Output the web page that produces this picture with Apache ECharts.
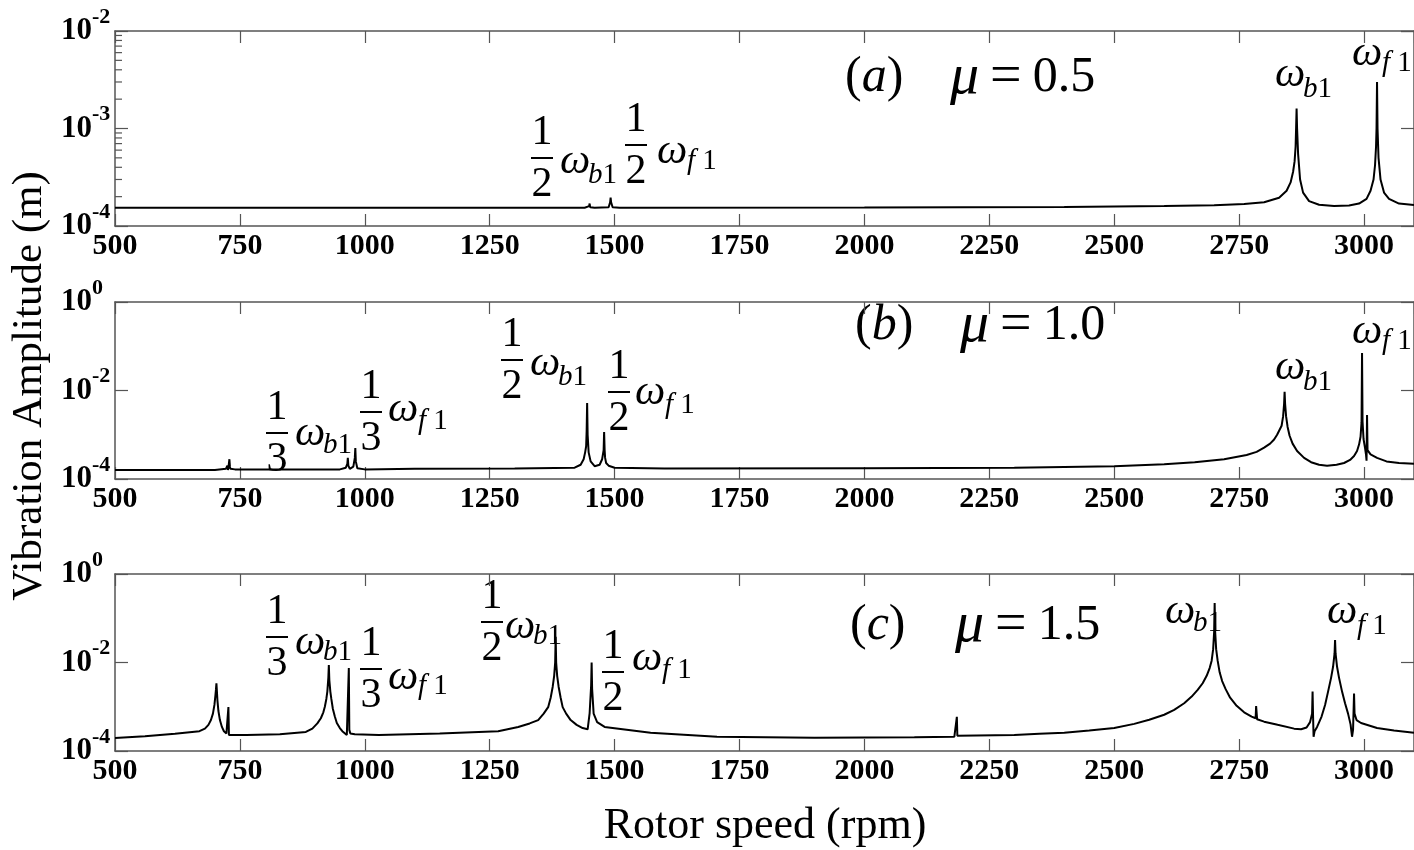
<!DOCTYPE html>
<html>
<head>
<meta charset="utf-8">
<title>Rotor speed response</title>
<script src="https://cdn.jsdelivr.net/npm/echarts@6/dist/echarts.min.js"></script>
<style>
  html, body { margin: 0; padding: 0; background: #fff; }
  #main { width: 1414px; height: 850px; }
</style>
</head>
<body>
<div id="main"></div>
<script>
// ---- data (rpm, amplitude in m) ----
const rpmA = [500, 1000, 1440, 1449, 1450, 1451, 1460, 1488, 1491, 1492, 1493, 1496, 1510, 2000, 2400, 2600, 2700, 2760, 2800, 2830, 2845, 2853, 2858, 2861, 2863, 2864, 2865, 2866, 2868, 2872, 2878, 2890, 2910, 2940, 2970, 2990, 3005, 3013, 3019, 3022, 3024, 3025, 3026, 3027, 3029, 3033, 3040, 3050, 3070, 3100];
const ampA = [1.54e-4, 1.54e-4, 1.54e-4, 1.6e-4, 1.7e-4, 1.56e-4, 1.54e-4, 1.56e-4, 1.75e-4, 1.95e-4, 1.75e-4, 1.56e-4, 1.54e-4, 1.55e-4, 1.57e-4, 1.6e-4, 1.63e-4, 1.68e-4, 1.75e-4, 1.95e-4, 2.3e-4, 2.8e-4, 3.6e-4, 4.6e-4, 6.5e-4, 1.0e-3, 1.6e-3, 1.0e-3, 5.5e-4, 3.0e-4, 2.2e-4, 1.8e-4, 1.65e-4, 1.6e-4, 1.62e-4, 1.7e-4, 1.9e-4, 2.3e-4, 3.0e-4, 4.2e-4, 6.5e-4, 1.0e-3, 3.0e-3, 1.0e-3, 5.0e-4, 3.0e-4, 2.2e-4, 1.9e-4, 1.7e-4, 1.64e-4];

const rpmB = [500, 700, 704, 722, 725, 726, 727, 729, 730, 731, 733, 740, 950, 962, 965, 966, 967, 970, 977, 980, 981, 982, 985, 1000, 1100, 1300, 1420, 1432, 1438, 1441, 1443, 1444, 1445, 1446, 1448, 1452, 1460, 1470, 1475, 1478, 1479, 1480, 1481, 1483, 1488, 1500, 1600, 2000, 2300, 2500, 2600, 2661, 2720, 2765, 2785, 2800, 2812, 2820, 2826, 2831, 2835, 2838, 2840, 2841, 2842, 2844, 2847, 2851, 2857, 2866, 2880, 2894, 2910, 2926, 2945, 2960, 2972, 2980, 2986, 2990, 2993, 2995, 2996, 2997, 2999, 3002, 3004, 3005, 3006, 3007, 3009, 3013, 3026, 3045, 3070, 3100];
const ampB = [1.6e-4, 1.6e-4, 1.65e-4, 1.7e-4, 2.0e-4, 1.6e-4, 1.8e-4, 2.8e-4, 1.9e-4, 1.7e-4, 1.65e-4, 1.65e-4, 1.65e-4, 1.8e-4, 2.2e-4, 3.0e-4, 2.0e-4, 1.7e-4, 1.9e-4, 3.0e-4, 5.0e-4, 2.5e-4, 1.75e-4, 1.65e-4, 1.7e-4, 1.72e-4, 1.8e-4, 2.1e-4, 2.8e-4, 4.0e-4, 5.5e-4, 1.2e-3, 5.2e-3, 1.0e-3, 4.0e-4, 2.5e-4, 1.95e-4, 2.1e-4, 2.8e-4, 4.5e-4, 1.15e-3, 4.5e-4, 3.0e-4, 2.3e-4, 2.0e-4, 1.8e-4, 1.72e-4, 1.75e-4, 1.8e-4, 1.95e-4, 2.15e-4, 2.4e-4, 2.8e-4, 3.5e-4, 4.1e-4, 5.1e-4, 6.3e-4, 7.8e-4, 1.0e-3, 1.3e-3, 1.6e-3, 2.6e-3, 5.0e-3, 9.3e-3, 5.0e-3, 2.6e-3, 1.5e-3, 9.5e-4, 6.3e-4, 4.3e-4, 3.0e-4, 2.4e-4, 2.1e-4, 2.0e-4, 2.1e-4, 2.3e-4, 2.7e-4, 3.3e-4, 4.3e-4, 6.0e-4, 9.0e-4, 1.9e-3, 7.0e-2, 2.0e-3, 8.0e-4, 5.0e-4, 3.5e-4, 2.6e-4, 2.8e-3, 4.5e-4, 4.2e-4, 3.6e-4, 3.0e-4, 2.5e-4, 2.3e-4, 2.2e-4];

const rpmC = [500, 560, 620, 669, 680, 687, 692, 696, 699, 701, 702, 703, 704, 705, 707, 710, 714, 718, 723, 726, 727, 728, 730, 763, 830, 882, 895, 905, 912, 917, 920, 923, 925, 927, 928, 929, 931, 933, 936, 940, 944, 950, 955, 964, 966, 967, 968, 969, 971, 980, 1028, 1150, 1267, 1307, 1330, 1347, 1358, 1367, 1372, 1376, 1379, 1381, 1382, 1383, 1385, 1388, 1392, 1396, 1403, 1412, 1424, 1436, 1446, 1450, 1453, 1454, 1455, 1458, 1465, 1480, 1572, 1705, 1900, 2100, 2180, 2184, 2185, 2186, 2190, 2300, 2350, 2400, 2450, 2500, 2540, 2570, 2600, 2620, 2640, 2655, 2667, 2677, 2685, 2691, 2695, 2698, 2700, 2701, 2702, 2704, 2707, 2711, 2716, 2723, 2732, 2745, 2760, 2775, 2783, 2784, 2786, 2800, 2827, 2860, 2874, 2885, 2892, 2896, 2897, 2898, 2899, 2901, 2906, 2915, 2922, 2928, 2934, 2938, 2941, 2942, 2943, 2946, 2950, 2956, 2962, 2968, 2973, 2975, 2976, 2978, 2980, 2981, 2985, 2994, 3026, 3060, 3100];
const ampC = [1.97e-4, 2.15e-4, 2.45e-4, 2.8e-4, 3.2e-4, 3.9e-4, 5.0e-4, 7.0e-4, 1.1e-3, 1.8e-3, 2.4e-3, 3.4e-3, 2.2e-3, 1.4e-3, 8.0e-4, 5.0e-4, 3.5e-4, 2.8e-4, 2.5e-4, 2.3e-4, 9.8e-4, 2.3e-4, 2.4e-4, 2.3e-4, 2.4e-4, 2.7e-4, 3.2e-4, 4.2e-4, 5.5e-4, 7.5e-4, 1.0e-3, 1.5e-3, 2.2e-3, 4.5e-3, 8.8e-3, 4.0e-3, 2.2e-3, 1.5e-3, 9.0e-4, 6.0e-4, 4.3e-4, 3.3e-4, 2.8e-4, 2.3e-4, 2.1e-4, 2.5e-4, 7.5e-3, 3.0e-4, 2.5e-4, 2.4e-4, 2.3e-4, 2.5e-4, 2.8e-4, 3.5e-4, 4.2e-4, 5.0e-4, 7.0e-4, 9.8e-4, 1.6e-3, 2.8e-3, 5.0e-3, 1.0e-2, 3.8e-2, 1.0e-2, 5.0e-3, 2.8e-3, 1.6e-3, 9.8e-4, 7.0e-4, 5.0e-4, 3.9e-4, 3.3e-4, 3.1e-4, 7.2e-4, 3.0e-3, 1.0e-2, 2.5e-3, 7.0e-4, 4.5e-4, 3.5e-4, 2.6e-4, 2.1e-4, 2.0e-4, 2.05e-4, 2.1e-4, 2.15e-4, 5.9e-4, 2.2e-4, 2.15e-4, 2.3e-4, 2.45e-4, 2.6e-4, 2.9e-4, 3.3e-4, 4.1e-4, 5.1e-4, 6.6e-4, 8.5e-4, 1.2e-3, 1.7e-3, 2.4e-3, 3.4e-3, 5.0e-3, 7.5e-3, 1.1e-2, 2.0e-2, 5.0e-2, 0.22, 5.0e-2, 2.0e-2, 1.1e-2, 6.0e-3, 3.8e-3, 2.5e-3, 1.6e-3, 1.05e-3, 7.5e-4, 6.0e-4, 5.5e-4, 1.04e-3, 5.2e-4, 4.6e-4, 3.9e-4, 3.2e-4, 3.1e-4, 3.4e-4, 4.5e-4, 7.0e-4, 2.2e-3, 6.0e-4, 2.1e-4, 2.8e-4, 3.5e-4, 6.0e-4, 1.1e-3, 2.2e-3, 4.5e-3, 8.0e-3, 1.6e-2, 3.2e-2, 1.6e-2, 8.0e-3, 4.5e-3, 2.2e-3, 1.2e-3, 7.0e-4, 4.0e-4, 2.6e-4, 2.1e-4, 3.0e-4, 2.0e-3, 7.0e-4, 5.0e-4, 4.3e-4, 3.3e-4, 2.9e-4, 2.6e-4];

// minor log ticks on the left axis of panel (a)
const minorTicksA = [2e-4, 3e-4, 4e-4, 5e-4, 6e-4, 7e-4, 8e-4, 9e-4, 2e-3, 3e-3, 4e-3, 5e-3, 6e-3, 7e-3, 8e-3, 9e-3];

const zip = (xs, ys) => xs.map((x, i) => [x, ys[i]]);

const SERIF = '"Liberation Serif", "Times New Roman", serif';
const AXIS_COLOR = '#555';

const chart = echarts.init(document.getElementById('main'));

const grids = [
    { left: 115, width: 1305, top: 31, height: 195 },
    { left: 115, width: 1305, top: 302, height: 177 },
    { left: 115, width: 1305, top: 574, height: 177 }
];

function bottomX(i) {
    return {
        type: 'value', gridIndex: i, min: 500, max: 3100, interval: 250,
        axisLine: { show: true, lineStyle: { color: AXIS_COLOR, width: 1.5 } },
        axisTick: { show: true, inside: true, length: 12, lineStyle: { color: AXIS_COLOR, width: 1.2 } },
        axisLabel: {
            margin: 5, color: '#000', fontFamily: SERIF, fontWeight: 'bold', fontSize: 30,
            showMaxLabel: false,
            formatter: v => (v % 250 === 0 && v <= 3000) ? String(v) : ''
        },
        splitLine: { show: false }
    };
}
function topX(i) {
    return {
        type: 'value', gridIndex: i, position: 'top', min: 500, max: 3100, interval: 250,
        axisLine: { show: true, lineStyle: { color: AXIS_COLOR, width: 1.5 } },
        axisTick: { show: true, inside: true, length: 12, lineStyle: { color: AXIS_COLOR, width: 1.2 } },
        axisLabel: { show: false },
        splitLine: { show: false }
    };
}
// left axis: line, ticks and the "10" of each label
function leftY(i, base, max) {
    return {
        type: 'log', gridIndex: i, logBase: base, min: 1e-4, max: max, position: 'left',
        axisLine: { show: true, lineStyle: { color: AXIS_COLOR, width: 1.5 } },
        axisTick: { show: true, inside: true, length: 13, lineStyle: { color: AXIS_COLOR, width: 1.2 } },
        axisLabel: {
            margin: 23, color: '#000', fontFamily: SERIF, fontWeight: 'bold', fontSize: 31,
            formatter: () => '10'
        },
        splitLine: { show: false }
    };
}
// second left axis carrying only the exponents, raised as superscripts
function expY(i, base, max) {
    return {
        type: 'log', gridIndex: i, logBase: base, min: 1e-4, max: max, position: 'left',
        axisLine: { show: false }, axisTick: { show: false },
        axisLabel: {
            margin: 23, align: 'left', verticalAlign: 'bottom', lineHeight: 28,
            color: '#000', fontFamily: SERIF, fontWeight: 'bold', fontSize: 22,
            formatter: v => String(Math.round(Math.log10(v)))
        },
        splitLine: { show: false }
    };
}
function rightY(i, base, max) {
    return {
        type: 'log', gridIndex: i, logBase: base, min: 1e-4, max: max, position: 'right',
        axisLine: { show: true, lineStyle: { color: AXIS_COLOR, width: 1.5 } },
        axisTick: { show: true, inside: true, length: 13, lineStyle: { color: AXIS_COLOR, width: 1.2 } },
        axisLabel: { show: false },
        splitLine: { show: false }
    };
}

function curve(i, rpm, amp) {
    return {
        type: 'line', xAxisIndex: i, yAxisIndex: i,
        data: zip(rpm, amp),
        showSymbol: false, symbol: 'none',
        lineStyle: { color: '#000', width: 2 },
        silent: true
    };
}

// ---- text annotations ----
const txt = (text, x, y, font, align) => ({
    type: 'text', silent: true,
    style: { text: text, x: x, y: y, font: font, fill: '#000', textAlign: align || 'left', textVerticalAlign: 'middle' }
});
function frac(cx, by, num, den) {
    return [
        txt(num, cx, by - 25, '42px ' + SERIF, 'center'),
        { type: 'rect', silent: true, shape: { x: cx - 11, y: by - 1, width: 22, height: 2 }, style: { fill: '#000' } },
        txt(den, cx, by + 27, '42px ' + SERIF, 'center')
    ];
}
// omega with a subscript "b1" or "f1"
function omega(x, cy, subLetter, sy) {
    return [
        txt('ω', x, cy, 'italic 43px ' + SERIF),
        {
            type: 'text', silent: true,
            style: {
                text: '{i|' + subLetter + '}{r|' + (subLetter === 'f' ? ' 1' : '1') + '}',
                x: x + (subLetter === 'f' ? 30 : 28), y: sy, textVerticalAlign: 'middle', fill: '#000',
                rich: {
                    i: { fontFamily: SERIF, fontStyle: 'italic', fontSize: 29 },
                    r: { fontFamily: SERIF, fontSize: 29 }
                }
            }
        }
    ];
}
function title(x, cy, letter, mu) {
    return [
        {
            type: 'text', silent: true,
            style: {
                text: '{r|(}{i|' + letter + '}{r|)}', x: x, y: cy, textVerticalAlign: 'middle', fill: '#000',
                rich: { r: { fontFamily: SERIF, fontSize: 50 }, i: { fontFamily: SERIF, fontStyle: 'italic', fontSize: 50 } }
            }
        },
        {
            type: 'text', silent: true,
            style: {
                text: '{i|μ}{e|=}{r|' + mu + '}', x: x + 105, y: cy, textVerticalAlign: 'middle', fill: '#000',
                rich: {
                    i: { fontFamily: SERIF, fontStyle: 'italic', fontSize: 58 },
                    e: { fontFamily: SERIF, fontSize: 56, padding: [0, 11, 0, 11] },
                    r: { fontFamily: SERIF, fontSize: 50 }
                }
            }
        }
    ];
}

const yTitle = txt('Vibration Amplitude (m)', 0, 0, '43px ' + SERIF, 'center');
yTitle.x = 30;
yTitle.y = 386;
yTitle.rotation = Math.PI / 2;

const graphics = [].concat(
    yTitle,
    txt('Rotor speed (rpm)', 765, 826, '44px ' + SERIF, 'center'),
    // panel (a)
    title(845, 78, 'a', '0.5'),
    frac(542, 158, '1', '2'), omega(560, 162, 'b', 175),
    frac(636, 145, '1', '2'), omega(657, 152, 'f', 161),
    omega(1275, 75, 'b', 89),
    omega(1352, 54, 'f', 63),
    // panel (b)
    title(855, 326, 'b', '1.0'),
    frac(277, 433, '1', '3'), omega(295, 434, 'b', 445),
    frac(371, 412, '1', '3'), omega(388, 410, 'f', 421),
    frac(512, 360, '1', '2'), omega(530, 364, 'b', 377),
    frac(619, 392, '1', '2'), omega(635, 393, 'f', 405),
    omega(1275, 368, 'b', 382),
    omega(1352, 332, 'f', 341),
    // panel (c)
    title(850, 626, 'c', '1.5'),
    frac(277, 637, '1', '3'), omega(295, 643, 'b', 652),
    frac(371, 669, '1', '3'), omega(388, 678, 'f', 686),
    frac(492, 622, '1', '2'), omega(505, 627, 'b', 636),
    frac(613, 672, '1', '2'), omega(632, 659, 'f', 670),
    omega(1165, 612, 'b', 623),
    omega(1327, 612, 'f', 626)
);

chart.setOption({
    animation: false,
    backgroundColor: '#fff',
    grid: grids,
    xAxis: [bottomX(0), bottomX(1), bottomX(2), topX(0), topX(1), topX(2)],
    yAxis: [
        leftY(0, 10, 1e-2), leftY(1, 100, 1), leftY(2, 100, 1),
        rightY(0, 10, 1e-2), rightY(1, 100, 1), rightY(2, 100, 1),
        expY(0, 10, 1e-2), expY(1, 100, 1), expY(2, 100, 1)
    ],
    series: [
        curve(0, rpmA, ampA),
        curve(1, rpmB, ampB),
        curve(2, rpmC, ampC),
        {
            type: 'custom', xAxisIndex: 0, yAxisIndex: 0, silent: true,
            data: minorTicksA.map(v => [500, v]),
            renderItem: (params, api) => {
                const p = api.coord([api.value(0), api.value(1)]);
                return {
                    type: 'line',
                    shape: { x1: p[0], y1: p[1], x2: p[0] + 7, y2: p[1] },
                    style: { stroke: AXIS_COLOR, lineWidth: 1.2 }
                };
            }
        }
    ],
    graphic: graphics
});
</script>
</body>
</html>
